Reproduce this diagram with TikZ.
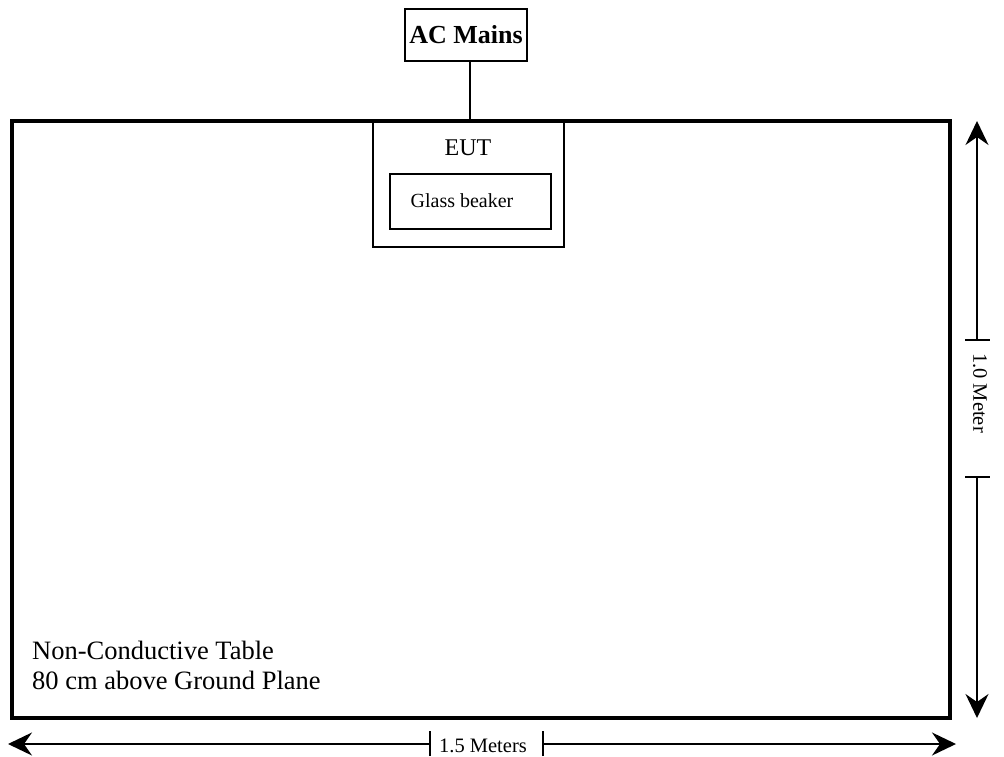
\documentclass[tikz,border=0pt]{standalone}
\usepackage{fontspec}
\setmainfont{Liberation Serif}
\usetikzlibrary{arrows.meta}
\begin{document}
\begin{tikzpicture}[x=1pt,y=-1pt,
  thinbox/.style={draw,line width=1.6pt,inner sep=0pt},
  dimline/.style={line width=1.6pt},
  tip/.style={-{Stealth[length=24pt,width=23pt,inset=8pt]}},
  lbl/.style={inner sep=0pt,anchor=center}]
\useasboundingbox (0,0) rectangle (1004,757);
% table
\draw[line width=3.6pt] (12,121) rectangle (950,718);
\coordinate (tbltop) at (470,121);
% EUT
\draw[thinbox] (373,121) rectangle (564,247);
\node[lbl,font=\fontsize{24}{28}\selectfont] (eut) at (468,148) {EUT};
\draw[thinbox] (390,174) rectangle (551,229);
\node[lbl,font=\fontsize{20}{24}\selectfont] (beaker) at (462,201) {Glass beaker};
% AC Mains
\node[thinbox,minimum width=122pt,minimum height=52pt,font=\bfseries\fontsize{26}{30}\selectfont] (ac) at (466,35) {AC Mains};
\draw[dimline] (ac.south -| tbltop) -- (tbltop);
% table text
\node[anchor=north west,inner sep=0pt,align=left,font=\fontsize{26.5}{30}\selectfont] (tabletxt) at (32,641) {Non-Conductive Table\\80 cm above Ground Plane};
% vertical dimension
\coordinate (vtop) at (977,121);
\coordinate (vbot) at (977,718);
\coordinate (vt1) at (977,340);
\coordinate (vt2) at (977,477);
\draw[dimline,tip] (vt1) -- (vtop);
\draw[dimline,tip] (vt2) -- (vbot);
\draw[dimline] ([xshift=-12pt]vt1) -- ([xshift=13pt]vt1);
\draw[dimline] ([xshift=-12pt]vt2) -- ([xshift=13pt]vt2);
\node[lbl,rotate=-90,font=\fontsize{20.5}{24}\selectfont] (vlbl) at (980,393) {1.0 Meter};
% horizontal dimension
\coordinate (hl) at (8,744);
\coordinate (hr) at (956,744);
\coordinate (ht1) at (430,744);
\coordinate (ht2) at (543,744);
\draw[dimline,tip] (ht1) -- (hl);
\draw[dimline,tip] (ht2) -- (hr);
\draw[dimline] ([yshift=-12pt]ht1) -- ([yshift=13pt]ht1);
\draw[dimline] ([yshift=-12pt]ht2) -- ([yshift=13pt]ht2);
\node[lbl,font=\fontsize{20.5}{24}\selectfont] (hlbl) at (483,746) {1.5 Meters};
\end{tikzpicture}
\end{document}
